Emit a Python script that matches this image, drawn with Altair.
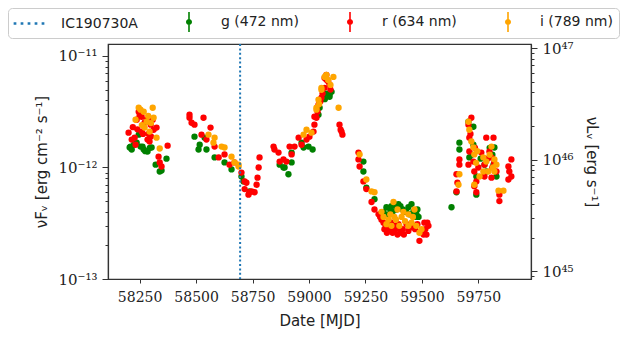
import altair as alt
import pandas as pd

# ---- data (MJD, nuFnu in units of 1e-12 erg cm^-2 s^-1) ----
g_mjd = [58206, 58210, 58215, 58237, 58246, 58254, 58263, 58268, 58285, 58303, 58321, 58339, 58347, 58369,
         58225, 58275, 58295,
         58493, 58511, 58516, 58538, 58546, 58582, 58626, 58657, 58701,
         58710, 58737,
         58870, 58887, 58892, 58909, 58923, 58923,
         58967, 58976, 58998, 59016, 59042, 59047, 59064, 59091, 59091, 59100, 59080, 59070,
         59241, 59241, 59254, 59290, 59352, 59365, 59387, 59396, 59423, 59440, 59454, 59462, 59476, 59485,
         59330, 59343, 59370, 59405, 59415, 59430, 59445, 59470, 59480, 59360, 59378,
         59631, 59653, 59666, 59666, 59706, 59710, 59728, 59728, 59741, 59741, 59777, 59785, 59817, 59821, 59830,
         59720, 59760, 59800, 59812]
g_flux = [1.51, 1.54, 1.45, 1.67, 1.97, 1.54, 1.54, 1.45, 1.39, 1.51, 1.06, 0.92, 0.94, 1.20,
          1.60, 1.40, 1.50,
          1.89, 1.45, 1.60, 1.85, 1.45, 1.23, 1.11, 0.96, 0.83,
          0.75, 0.61,
          1.06, 1.00, 1.00, 0.87, 1.11, 1.36,
          1.67, 1.51, 1.54, 1.45, 2.97, 3.43, 4.22, 4.49, 4.30, 4.77, 4.60, 4.10,
          1.13, 0.92, 0.66, 0.52, 0.38, 0.45, 0.42, 0.47, 0.40, 0.44, 0.47, 0.40, 0.38, 0.36,
          0.40, 0.44, 0.40, 0.45, 0.42, 0.40, 0.38, 0.36, 0.42, 0.42, 0.47,
          0.44, 0.60, 1.67, 1.45, 2.57, 1.23, 1.60, 2.32, 0.83, 0.57, 1.06, 0.92, 1.06, 1.51, 0.83,
          1.30, 1.20, 1.50, 1.30]

r_mjd = [58201, 58215, 58228, 58232, 58237, 58246, 58250, 58259, 58259, 58272, 58281, 58285, 58294, 58299,
         58308, 58312, 58325, 58334, 58339, 58347, 58374, 58220, 58240, 58265, 58290, 58300,
         58471, 58471, 58480, 58493, 58524, 58533, 58546, 58564, 58582, 58600, 58626, 58648, 58670, 58701,
         58715, 58715, 58723, 58732, 58737, 58746, 58759, 58768, 58772, 58777, 58781,
         58843, 58847, 58865, 58870, 58887, 58900, 58914, 58923, 58936,
         58954, 58967, 58989, 59002, 59020, 59024, 59024, 59033, 59038, 59042, 59055, 59069, 59069, 59077,
         59077, 59091, 59135, 59140, 59144, 59148, 59050, 59060, 59085, 59095,
         59219, 59219, 59224, 59241, 59254, 59277, 59290, 59308, 59321, 59330, 59334, 59352, 59365, 59378,
         59387, 59396, 59409, 59432, 59440, 59462, 59489, 59507, 59511, 59524, 59529,
         59315, 59340, 59345, 59360, 59370, 59383, 59392, 59400, 59415, 59420, 59450, 59470, 59480, 59498,
         59515, 59520,
         59653, 59653, 59657, 59666, 59666, 59706, 59706, 59710, 59710, 59719, 59728, 59732, 59732, 59741,
         59741, 59763, 59777, 59777, 59785, 59799, 59808, 59808, 59817, 59830, 59843, 59843, 59883, 59883,
         59887, 59896, 59896, 59715, 59735, 59750, 59790, 59812, 59820]
r_flux = [2.05, 1.78, 1.85, 1.60, 2.68, 3.16, 2.91, 2.85, 2.10, 2.52, 2.68, 1.78, 1.71, 2.42,
          2.68, 2.18, 2.28, 1.25, 1.11, 1.02, 1.57, 2.30, 2.20, 2.00, 2.00, 1.90,
          2.97, 2.79, 2.52, 2.42, 1.97, 2.79, 1.78, 2.28, 1.54, 1.23, 1.31, 1.06, 1.11, 0.90,
          0.75, 0.64, 0.73, 0.57, 0.60, 0.61, 0.60, 0.70, 0.81, 1.00, 1.23,
          1.54, 1.45, 1.36, 1.13, 1.18, 1.13, 1.54, 1.31, 1.54,
          1.85, 1.60, 1.78, 1.89, 2.10, 2.42, 2.85, 2.79, 3.16, 3.65, 4.22, 5.18, 6.36, 6.11,
          6.77, 5.51, 2.42, 2.18, 2.10, 1.97, 3.90, 4.60, 5.90, 5.00,
          1.36, 1.18, 1.02, 0.75, 0.64, 0.49, 0.42, 0.38, 0.34, 0.32, 0.28, 0.28, 0.32, 0.27,
          0.29, 0.31, 0.26, 0.31, 0.27, 0.30, 0.22, 0.25, 0.32, 0.32, 0.30,
          0.36, 0.30, 0.26, 0.29, 0.26, 0.30, 0.25, 0.28, 0.28, 0.25, 0.29, 0.28, 0.31, 0.27,
          0.28, 0.25,
          0.87, 0.61, 0.73, 1.06, 1.18, 2.42, 1.06, 1.85, 1.39, 2.79, 1.13, 0.92, 0.68, 0.75,
          0.60, 1.36, 1.06, 0.83, 1.85, 1.39, 1.23, 0.81, 1.85, 0.92, 0.57, 0.50, 1.02, 0.78,
          0.92, 1.18, 0.83, 2.00, 1.50, 1.00, 1.20, 1.00, 1.10]

i_mjd = [58232, 58246, 58254, 58268, 58272, 58281, 58294, 58308, 58312, 58325, 58339, 58260, 58288, 58300,
         58555, 58577, 58582, 58613, 58626, 58657, 58670, 58688, 58688,
         58976, 58989, 59011, 59033, 59033, 59042, 59055, 59055, 59069, 59077, 59108, 59131, 59045, 59085, 59095,
         59224, 59254, 59277, 59290, 59321, 59343, 59352, 59374, 59378, 59400, 59418, 59454, 59467, 59489, 59498,
         59330, 59360, 59365, 59385, 59392, 59410, 59425, 59440, 59460, 59475, 59440,
         59662, 59666, 59706, 59710, 59719, 59728, 59732, 59732, 59755, 59772, 59772, 59785, 59794, 59808,
         59821, 59821, 59830, 59839, 59861, 59740, 59800, 59815, 59745]
i_flux = [2.68, 3.43, 3.30, 3.16, 2.28, 2.57, 2.10, 3.43, 2.79, 1.85, 1.48, 2.40, 2.90, 2.50,
          1.97, 1.67, 1.85, 1.54, 1.51, 1.25, 1.11, 1.02, 1.06,
          1.97, 2.18, 2.05, 3.43, 3.30, 4.05, 5.18, 4.97, 6.49, 6.77, 6.49, 3.43, 3.70, 6.10, 5.50,
          1.31, 0.78, 0.61, 0.60, 0.40, 0.31, 0.34, 0.49, 0.36, 0.30, 0.40, 0.32, 0.42, 0.26, 0.28,
          0.36, 0.38, 0.30, 0.34, 0.42, 0.36, 0.33, 0.38, 0.36, 0.30, 0.30,
          0.70, 0.87, 2.57, 2.18, 1.71, 1.51, 1.31, 0.70, 0.83, 1.23, 0.92, 1.13, 0.92, 1.54,
          1.18, 0.92, 1.06, 0.62, 0.62, 1.10, 1.30, 1.00, 1.40]

band_names = ["g (472 nm)", "r (634 nm)", "i (789 nm)"]
band_colors = ["#008000", "#ff0000", "#ffa500"]
event_name = "IC190730A"
event_color = "#1f77b4"
event_mjd = [58695]
legend_names = [event_name] + band_names
legend_colors = [event_color] + band_colors

x_ticks = [58250, 58500, 58750, 59000, 59250, 59500, 59750]
x_domain = [58110, 59983]
flux_unit = 1e-12
flux_domain = [1e-13, 1.28e-11]
flux_major = [1e-13, 1e-12, 1e-11]
lum_factor = 8.49e57            # nuL_nu / nuF_nu
lum_domain = [flux_domain[0] * lum_factor, flux_domain[1] * lum_factor]
lum_major = [1e45, 1e46, 1e47]

flux_minor = [k * 10.0 ** d for d in (-13, -12) for k in range(2, 10)]
lum_minor = [k * 10.0 ** d for d in (44, 45, 46) for k in range(2, 10)]

# ---- tables ----
band_tables = []
for ms, fs in zip([g_mjd, r_mjd, i_mjd], [g_flux, r_flux, i_flux]):
    band_tables.append(pd.DataFrame({"mjd": ms, "flux": [f * flux_unit for f in fs]}))
df_all = pd.concat(band_tables, ignore_index=True)
df_event = pd.DataFrame({"mjd": event_mjd})
df_legend = pd.DataFrame({"band": legend_names})

# ---- styling helpers ----
SERIF = "DejaVu Serif"
SANS = "DejaVu Sans"
INK = "#333333"

x_scale = alt.Scale(domain=x_domain, nice=False, zero=False)
flux_scale = alt.Scale(type="log", domain=flux_domain, nice=False)
lum_scale = alt.Scale(type="log", domain=lum_domain, nice=False)
color_scale = alt.Scale(domain=legend_names, range=legend_colors)

# legend glyphs (custom symbol paths, unit = 8 px)
shift = 0.875
dots = " ".join(
    f"M{c - 0.17:.3f},-0.17 L{c + 0.17:.3f},-0.17 L{c + 0.17:.3f},0.17 L{c - 0.17:.3f},0.17 Z"
    for c in [shift + k * 0.875 for k in (-2, -1, 0, 1, 2)]
)
errbar = (f"M{shift - 0.1:.3f},-1.25 L{shift + 0.1:.3f},-1.25 L{shift + 0.1:.3f},1.25 L{shift - 0.1:.3f},1.25 Z "
          f"M{shift - 0.375:.3f},0 A0.375,0.375 0 1 1 {shift + 0.375:.3f},0 "
          f"A0.375,0.375 0 1 1 {shift - 0.375:.3f},0 Z")
shape_scale = alt.Scale(domain=legend_names, range=[dots, errbar, errbar, errbar])

# ---- layers ----
x_axis = alt.Axis(values=x_ticks, format="d", title="Date [MJD]", tickSize=4,
                  labelPadding=7, labelFont=SERIF, labelFontSize=14,
                  titleFont=SANS, titleFontSize=15, titleFontWeight="normal", titlePadding=9)
left_axis = alt.Axis(orient="left", values=flux_major, tickSize=6, labelPadding=5,
                     labelExpr="datum.value < 5e-13 ? '10\u207b\u00b9\u00b3' : (datum.value < 5e-12 ? '10\u207b\u00b9\u00b2' : '10\u207b\u00b9\u00b9')",
                     labelFont=SERIF, labelFontSize=15,
                     title="\u03bdF\u1d65 [erg cm\u207b\u00b2 s\u207b\u00b9]",
                     titleFont=SANS, titleFontSize=15, titleFontWeight="normal",
                     titleX=-67, titleBaseline="middle")

band_layers = []
for k, (tbl, col) in enumerate(zip(band_tables, band_colors)):
    band_layers.append(
        alt.Chart(tbl).mark_circle(size=40, opacity=1, color=col).encode(
            x=alt.X("mjd:Q", scale=x_scale, axis=x_axis),
            y=alt.Y("flux:Q", scale=flux_scale, axis=left_axis if k == 0 else None),
        )
    )

left_minor = alt.Chart(df_all).mark_point(opacity=0).encode(
    y=alt.Y("flux:Q", scale=flux_scale,
            axis=alt.Axis(orient="left", values=flux_minor, labels=False, tickSize=3,
                          domain=False, title=None)),
)

right_major = alt.Chart(df_all).mark_point(opacity=0).transform_calculate(
    lum=f"datum.flux * {lum_factor}"
).encode(
    y=alt.Y("lum:Q", scale=lum_scale,
            axis=alt.Axis(orient="right", values=lum_major, tickSize=6, labelPadding=5,
                          labelExpr="datum.value < 5e45 ? '10\u2074\u2075' : (datum.value < 5e46 ? '10\u2074\u2076' : '10\u2074\u2077')",
                          labelFont=SERIF, labelFontSize=15,
                          title="\u03bdL\u1d65 [erg s\u207b\u00b9]",
                          titleFont=SANS, titleFontSize=15, titleFontWeight="normal",
                          titleX=60, titleBaseline="middle")),
)

right_minor = alt.Chart(df_all).mark_point(opacity=0).transform_calculate(
    lum=f"datum.flux * {lum_factor}"
).encode(
    y=alt.Y("lum:Q", scale=lum_scale,
            axis=alt.Axis(orient="right", values=lum_minor, labels=False, tickSize=3,
                          domain=False, title=None)),
)

event = alt.Chart(df_event).mark_rule(color=event_color, strokeWidth=2, strokeDash=[2, 2.4]).encode(
    x=alt.X("mjd:Q", scale=x_scale, axis=x_axis),
)

legend_def = alt.Legend(title=None, orient="none", legendX=-100, legendY=-36,
                        direction="horizontal", columns=4, columnPadding=36,
                        symbolSize=256, symbolOpacity=1, symbolStrokeWidth=0,
                        labelOffset=31, labelFont=SANS, labelFontSize=14,
                        labelColor="#222222", padding=6, cornerRadius=4,
                        strokeColor="#cccccc", fillColor="white")

legend_layer = alt.Chart(df_legend).mark_point(filled=True, size=256, opacity=0, strokeWidth=0).encode(
    color=alt.Color("band:N", scale=color_scale, sort=legend_names, legend=legend_def),
    shape=alt.Shape("band:N", scale=shape_scale, sort=legend_names, legend=legend_def),
)

chart = alt.layer(
    *band_layers, left_minor, right_major, right_minor, event, legend_layer
).resolve_scale(
    y="independent"
).properties(
    width=423, height=235,
    autosize=alt.AutoSizeParams(type="none"),
    padding={"left": 100, "top": 36, "right": 91, "bottom": 59},
).configure_view(
    stroke=INK, strokeWidth=1.2
).configure_axis(
    grid=False, domainColor=INK, domainWidth=1.2, tickColor=INK, tickWidth=1,
    labelColor="#222222", titleColor="#222222"
)

chart.save("out.html", embed_options={"renderer": "svg", "actions": False})
